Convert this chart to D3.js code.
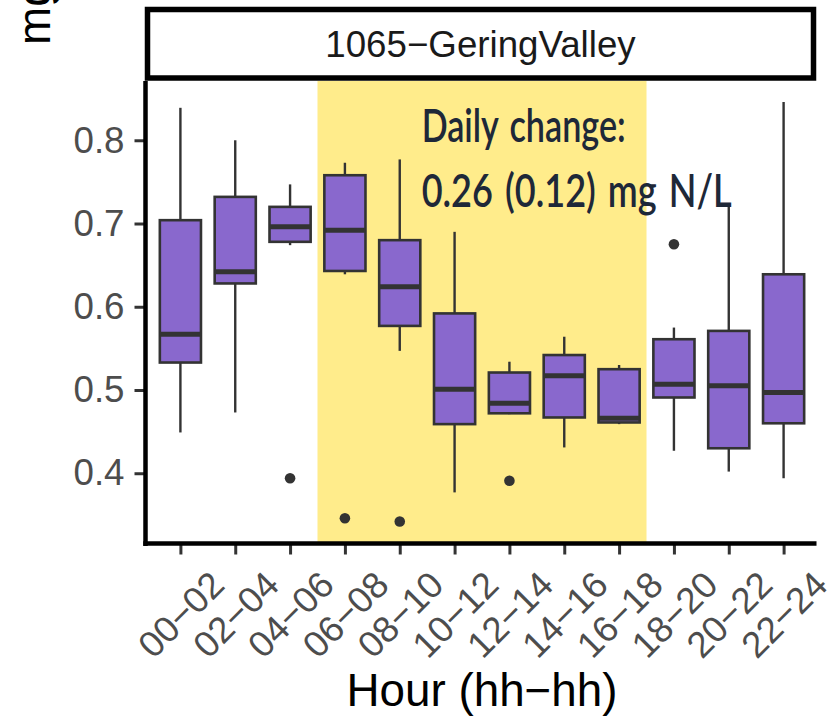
<!DOCTYPE html>
<html>
<head>
<meta charset="utf-8">
<script src="https://cdn.jsdelivr.net/npm/d3@7"></script>
<style>
  html, body { margin: 0; padding: 0; background: #ffffff; }
  svg { display: block; }
</style>
</head>
<body>
<svg id="chart" width="833" height="721"></svg>
<script>
// Two-hour windows of the day
const hours = ["00−02", "02−04", "04−06", "06−08", "08−10", "10−12",
               "12−14", "14−16", "16−18", "18−20", "20−22", "22−24"];

// Box-plot summaries (mg N/L) per window
const whiskerHigh = [0.839, 0.800, 0.747, 0.773, 0.777, 0.690, 0.534, 0.564, 0.530, 0.575, 0.724, 0.846];
const upperQuartile = [0.704, 0.732, 0.720, 0.758, 0.680, 0.592, 0.521, 0.542, 0.525, 0.561, 0.571, 0.639];
const medians = [0.567, 0.642, 0.696, 0.692, 0.624, 0.501, 0.484, 0.517, 0.466, 0.507, 0.505, 0.497];
const lowerQuartile = [0.533, 0.628, 0.678, 0.643, 0.577, 0.459, 0.472, 0.467, 0.461, 0.491, 0.430, 0.460];
const whiskerLow = [0.449, 0.473, 0.674, 0.639, 0.547, 0.377, 0.471, 0.431, 0.459, 0.427, 0.402, 0.394];

// Outlying observations
const outlierHours = ["04−06", "06−08", "08−10", "12−14", "18−20"];
const outlierValues = [0.394, 0.346, 0.342, 0.391, 0.675];

// Daylight shading, in 1-based discrete positions
const dayShade = [3.5, 9.5];

const yTicks = [0.4, 0.5, 0.6, 0.7, 0.8];
const siteLabel = "1065−GeringValley";
const noteLines = ["Daily change:", "0.26 (0.12) mg N/L"];

const svg = d3.select("#chart");

const panel = { left: 147.5, right: 816.5, top: 81, bottom: 542.5 };

const x = d3.scalePoint()
  .domain(hours)
  .range([panel.left, panel.right])
  .padding(0.6);
const step = x.step();
// continuous position (1-based) -> pixel
const xPos = p => x(hours[0]) + (p - 1) * step;

const allValues = whiskerHigh.concat(whiskerLow, outlierValues);
const vMin = d3.min(allValues), vMax = d3.max(allValues);
const pad = (vMax - vMin) * 0.05;
const y = d3.scaleLinear()
  .domain([vMin - pad, vMax + pad])
  .range([panel.bottom, panel.top]);

// daylight band
svg.append("rect")
  .attr("x", xPos(dayShade[0]))
  .attr("y", panel.top)
  .attr("width", xPos(dayShade[1]) - xPos(dayShade[0]))
  .attr("height", panel.bottom - panel.top)
  .attr("fill", "#FFEC8B");

// boxes
const boxW = step * 0.75;
const stats = hours.map((h, i) => ({
  h, hi: whiskerHigh[i], q3: upperQuartile[i], med: medians[i],
  q1: lowerQuartile[i], lo: whiskerLow[i]
}));

const g = svg.append("g");
const box = g.selectAll("g.box").data(stats).join("g").attr("class", "box");

box.append("line")
  .attr("x1", d => x(d.h)).attr("x2", d => x(d.h))
  .attr("y1", d => y(d.hi)).attr("y2", d => y(d.q3))
  .attr("stroke", "#333333").attr("stroke-width", 2.4);
box.append("line")
  .attr("x1", d => x(d.h)).attr("x2", d => x(d.h))
  .attr("y1", d => y(d.q1)).attr("y2", d => y(d.lo))
  .attr("stroke", "#333333").attr("stroke-width", 2.4);
box.append("rect")
  .attr("x", d => x(d.h) - boxW / 2)
  .attr("width", boxW)
  .attr("y", d => y(d.q3))
  .attr("height", d => y(d.q1) - y(d.q3))
  .attr("fill", "#8968CD")
  .attr("stroke", "#333333").attr("stroke-width", 2.6);
box.append("line")
  .attr("x1", d => x(d.h) - boxW / 2).attr("x2", d => x(d.h) + boxW / 2)
  .attr("y1", d => y(d.med)).attr("y2", d => y(d.med))
  .attr("stroke", "#333333").attr("stroke-width", 5);

// outliers
g.selectAll("circle.out")
  .data(outlierHours.map((h, i) => ({ h, v: outlierValues[i] })))
  .join("circle")
  .attr("class", "out")
  .attr("cx", d => x(d.h))
  .attr("cy", d => y(d.v))
  .attr("r", 5.3)
  .attr("fill", "#333333");

// annotation
const note = svg.append("text")
  .attr("x", xPos(5.4))
  .attr("y", y(0.798))
  .attr("font-family", "Lato, 'Open Sans', sans-serif")
  .attr("font-size", 47)
  .attr("font-weight", 600)
  .attr("word-spacing", 4)
  .attr("fill", "#1E2838");
note.append("tspan").text(noteLines[0])
  .attr("x", xPos(5.4))
  .attr("textLength", 204).attr("lengthAdjust", "spacingAndGlyphs");
note.append("tspan").text(noteLines[1])
  .attr("x", xPos(5.4)).attr("dy", 65)
  .attr("textLength", 310).attr("lengthAdjust", "spacingAndGlyphs");

// axes
const font = "'Liberation Sans', Arial, Helvetica, sans-serif";

const yAxis = svg.append("g")
  .attr("transform", `translate(${panel.left - 2},0)`)
  .call(d3.axisLeft(y).tickValues(yTicks).tickFormat(d3.format(".1f"))
        .tickSize(11).tickPadding(10));
yAxis.select(".domain").remove();
yAxis.selectAll(".tick line").attr("stroke", "#333333").attr("stroke-width", 3);
yAxis.selectAll(".tick text")
  .attr("font-family", font).attr("font-size", 36.7).attr("fill", "#4D4D4D");

const xAxis = svg.append("g")
  .attr("transform", `translate(0,${panel.bottom + 1})`)
  .call(d3.axisBottom(x).tickSize(11).tickPadding(0));
xAxis.select(".domain").remove();
xAxis.selectAll(".tick line").attr("stroke", "#333333").attr("stroke-width", 3);
xAxis.selectAll(".tick text")
  .attr("font-family", font).attr("font-size", 36.7).attr("fill", "#4D4D4D")
  .attr("text-anchor", "middle")
  .attr("x", 0).attr("y", 0).attr("dy", "0.35em")
  .attr("transform", "translate(0,71) rotate(-45)");

// axis lines
svg.append("line")
  .attr("x1", panel.left - 2).attr("x2", panel.left - 2)
  .attr("y1", panel.top).attr("y2", panel.bottom + 3.5)
  .attr("stroke", "#000").attr("stroke-width", 4.5);
svg.append("line")
  .attr("x1", panel.left - 4.2).attr("x2", panel.right)
  .attr("y1", panel.bottom + 1).attr("y2", panel.bottom + 1)
  .attr("stroke", "#000").attr("stroke-width", 4.5);

// facet strip
svg.append("rect")
  .attr("x", panel.left)
  .attr("y", 9.5)
  .attr("width", panel.right - panel.left - 3)
  .attr("height", 68.5)
  .attr("fill", "#ffffff")
  .attr("stroke", "#000").attr("stroke-width", 5.5);
svg.append("text")
  .attr("x", (panel.left + panel.right - 3) / 2)
  .attr("y", 56.5)
  .attr("text-anchor", "middle")
  .attr("font-family", font).attr("font-size", 36.7).attr("fill", "#1A1A1A")
  .text(siteLabel);

// axis titles
svg.append("text")
  .attr("x", (panel.left + panel.right) / 2)
  .attr("y", 706)
  .attr("text-anchor", "middle")
  .attr("font-family", font).attr("font-size", 45.8).attr("fill", "#000")
  .text("Hour (hh−hh)");
svg.append("text")
  .attr("transform", "translate(50,45) rotate(-90)")
  .attr("text-anchor", "start")
  .attr("font-family", font).attr("font-size", 45.8).attr("fill", "#000")
  .text("mg N/L");
</script>
</body>
</html>
